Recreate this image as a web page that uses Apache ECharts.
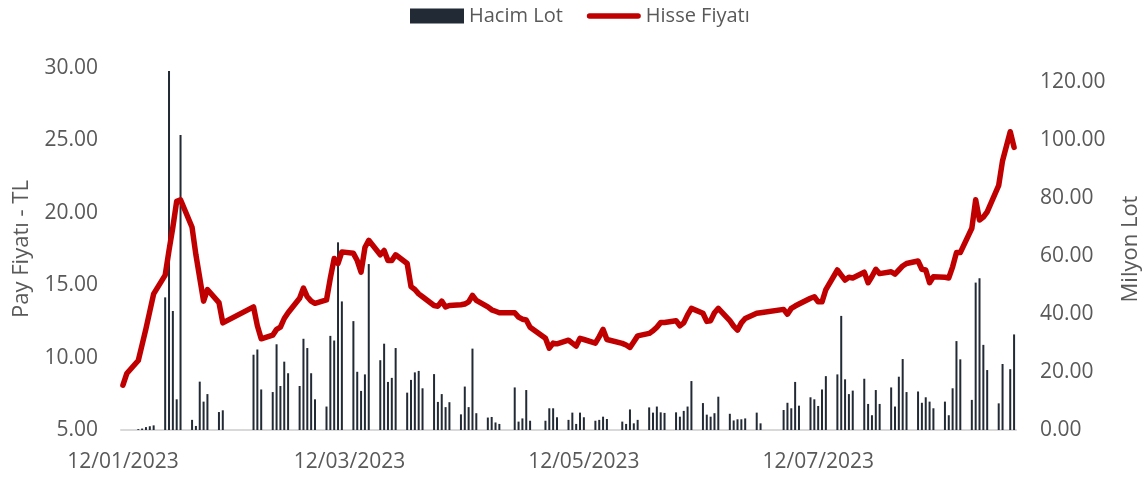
<!DOCTYPE html>
<html>
<head>
<meta charset="utf-8">
<script src="https://cdn.jsdelivr.net/npm/echarts@6/dist/echarts.min.js"></script>
<style>
  html, body { margin: 0; padding: 0; background: #fff; }
  #chart { width: 1147px; height: 479px; }
</style>
</head>
<body>
<div id="chart"></div>
<script>
// trading days per month (Jan..Sep 2023)
const tradeDays = [
  [12, 13, 16, 17, 18, 19, 20, 23, 24, 25, 26, 27, 30, 31],
  [1, 2, 3, 6, 7, 15, 16, 17, 20, 21, 22, 23, 24, 27, 28],
  [1, 2, 3, 6, 7, 8, 9, 10, 13, 14, 15, 16, 17, 20, 21, 22, 23, 24, 27, 28, 29, 30, 31],
  [3, 4, 5, 6, 7, 10, 11, 12, 13, 14, 17, 18, 19, 20, 24, 25, 26, 27, 28],
  [2, 3, 4, 5, 8, 9, 10, 11, 12, 15, 16, 17, 18, 22, 23, 24, 25, 26, 29, 30, 31],
  [1, 2, 5, 6, 7, 8, 9, 12, 13, 14, 15, 16, 19, 20, 21, 22, 23, 26, 27],
  [3, 4, 5, 6, 7, 10, 11, 12, 13, 14, 17, 18, 19, 20, 21, 24, 25, 26, 27, 28, 31],
  [1, 2, 3, 4, 7, 8, 9, 10, 11, 14, 15, 16, 17, 18, 21, 22, 23, 24, 25, 28, 29, 31],
  [1]
];

// Hacim Lot (milyon)
const volume = [
  [0, 0, 0.3, 0.5, 1.0, 1.3, 1.6, 45.8, 124, 41.1, 10.6, 101.9, 3.5, 1.4],
  [16.7, 9.8, 12.4, 6.2, 6.8, 26.0, 27.8, 14.0, 13.1, 29.6, 15.2, 23.6, 19.6, 15.2, 31.5],
  [28.3, 19.6, 10.6, 8.1, 32.5, 30.9, 64.8, 44.4, 37.6, 20.1, 13.5, 19.2, 57.3, 24.1, 29.8, 16.6, 18.0, 28.3, 12.9, 17.3, 19.9, 20.4, 14.4],
  [19.3, 9.7, 12.4, 7.9, 9.6, 5.4, 15.0, 7.9, 28.1, 5.8, 4.3, 4.5, 2.6, 2.1, 14.7, 2.9, 4.0, 13.8, 3.2],
  [3.2, 7.5, 7.5, 4.4, 3.5, 6.0, 2.1, 6.0, 4.4, 3.2, 3.5, 4.6, 3.8, 2.9, 2.1, 7.1, 2.3, 3.5, 7.8, 6.0, 8.1],
  [6.1, 5.9, 6.1, 4.6, 6.6, 8.1, 16.9, 9.3, 5.3, 4.6, 5.8, 11.5, 5.6, 3.3, 3.7, 3.7, 4.0, 6.0, 2.3],
  [6.9, 9.4, 7.5, 16.6, 8.4, 11.3, 10.6, 8.3, 14.0, 18.6, 19.2, 39.4, 17.5, 12.4, 13.6, 17.7, 9.0, 5.1, 13.8, 9.0, 14.7],
  [8.1, 18.4, 24.5, 13.1, 13.3, 9.4, 11.3, 9.8, 7.5, 9.8, 5.1, 14.4, 30.7, 24.4, 10.4, 50.9, 52.4, 29.4, 20.7, 9.2, 22.8, 21.0],
  [33.0]
];

// Hisse Fiyatı (TL)
const price = [
  [8.1, 8.9, 9.8, 10.9, 12.0, 13.2, 14.4, 15.7, 17.4, 19.0, 20.8, 20.9, 19.0, 17.1],
  [15.5, 13.9, 14.7, 13.8, 12.4, 13.5, 12.2, 11.3, 11.55, 11.95, 12.1, 12.7, 13.1, 14.1, 14.8],
  [14.2, 13.9, 13.75, 13.98, 15.5, 16.85, 16.5, 17.3, 17.2, 16.7, 15.9, 17.6, 18.1, 17.1, 17.4, 16.7, 16.7, 17.1, 16.5, 14.9, 14.7, 14.4, 14.2],
  [13.6, 13.55, 13.9, 13.5, 13.6, 13.65, 13.7, 13.85, 14.3, 13.95, 13.5, 13.3, 13.2, 13.1, 13.1, 12.8, 12.65, 12.6, 12.1],
  [11.33, 10.65, 11.0, 10.95, 11.2, 11.0, 10.8, 11.33, 11.25, 11.0, 11.45, 11.95, 11.25, 10.98, 10.87, 10.7, 11.1, 11.5, 11.67, 11.85, 12.1],
  [12.43, 12.43, 12.55, 12.2, 12.4, 12.95, 13.4, 13.06, 12.5, 12.55, 13.1, 13.4, 12.55, 12.18, 11.9, 12.4, 12.7, 13.06, 13.1],
  [13.33, 13.0, 13.4, 13.56, 13.7, 14.1, 14.2, 13.85, 13.85, 14.7, 16.05, 15.7, 15.36, 15.55, 15.5, 15.9, 15.17, 15.6, 16.1, 15.8, 15.93],
  [15.77, 16.05, 16.33, 16.5, 16.67, 16.1, 16.05, 15.17, 15.59, 15.55, 15.5, 16.27, 17.25, 17.25, 18.93, 20.9, 19.5, 19.7, 20.07, 21.9, 23.6, 25.6],
  [24.52]
];

// x axis labels: 12/01, 12/03, 12/05, 12/07
const labelMonths = [0, 2, 4, 6];

const font = 'Open Sans';
const textColor = '#595959';

let volData = [];
let priceData = [];
tradeDays.forEach((days, m) => {
  days.forEach((d, i) => {
    let t = new Date(2023, m, d).getTime();
    volData.push([t, volume[m][i]]);
    priceData.push([t, price[m][i]]);
  });
});

const labelDates = labelMonths.map(m => new Date(2023, m, 12).getTime());

function pad(n) { return n < 10 ? '0' + n : '' + n; }

const myChart = echarts.init(document.getElementById('chart'));

let option = {
  animation: false,
  textStyle: { fontFamily: font },
  legend: {
    left: 405,
    top: 1,
    itemWidth: 54,
    itemHeight: 15,
    itemGap: 24,
    textStyle: { color: textColor, fontSize: 20, fontFamily: font },
    data: [
      { name: 'Hacim Lot', icon: 'rect' },
      { name: 'Hisse Fiyatı', icon: 'path://M3,0 L57,0 A3,3 0 0 1 57,6 L3,6 A3,3 0 0 1 3,0 Z' }
    ]
  },
  grid: {
    left: 121,
    right: 131,
    top: 68,
    bottom: 49,
    outerBoundsMode: 'none'
  },
  xAxis: {
    type: 'value',
    min: new Date(2023, 0, 11, 12).getTime(),
    max: new Date(2023, 8, 1, 12).getTime(),
    axisLine: { lineStyle: { color: '#d9d9d9', width: 2 } },
    axisTick: { show: false },
    splitLine: { show: false },
    axisLabel: {
      customValues: labelDates,
      color: textColor,
      fontSize: 21,
      fontFamily: font,
      margin: 22,
      hideOverlap: false,
      formatter: function (v) {
        let d = new Date(v);
        return pad(d.getDate()) + '/' + pad(d.getMonth() + 1) + '/' + d.getFullYear();
      }
    }
  },
  yAxis: [
    {
      type: 'value',
      min: 5,
      max: 30,
      interval: 5,
      name: 'Pay Fiyatı - TL',
      nameLocation: 'middle',
      nameRotate: 90,
      nameGap: 88,
      nameTextStyle: { color: textColor, fontSize: 22, fontFamily: font },
      axisLine: { show: false },
      axisTick: { show: false },
      splitLine: { show: false },
      axisLabel: {
        color: textColor,
        fontSize: 21,
        fontFamily: font,
        margin: 23,
        formatter: v => v.toFixed(2)
      }
    },
    {
      type: 'value',
      min: 0,
      max: 125,
      interval: 20,
      name: 'Milyon Lot',
      nameLocation: 'middle',
      nameRotate: 90,
      nameGap: 104,
      nameTextStyle: { color: textColor, fontSize: 22, fontFamily: font },
      axisLine: { show: false },
      axisTick: { show: false },
      splitLine: { show: false },
      axisLabel: {
        color: textColor,
        fontSize: 21,
        fontFamily: font,
        margin: 24,
        showMaxLabel: false,
        formatter: v => v.toFixed(2)
      }
    }
  ],
  series: [
    {
      name: 'Hacim Lot',
      type: 'bar',
      yAxisIndex: 1,
      barWidth: 2,
      itemStyle: { color: '#222a35' },
      data: volData
    },
    {
      name: 'Hisse Fiyatı',
      type: 'line',
      yAxisIndex: 0,
      symbol: 'none',
      lineStyle: { color: '#c00000', width: 5.5, cap: 'round', join: 'round' },
      itemStyle: { color: '#c00000' },
      data: priceData
    }
  ]
};

myChart.setOption(option);
</script>
</body>
</html>
